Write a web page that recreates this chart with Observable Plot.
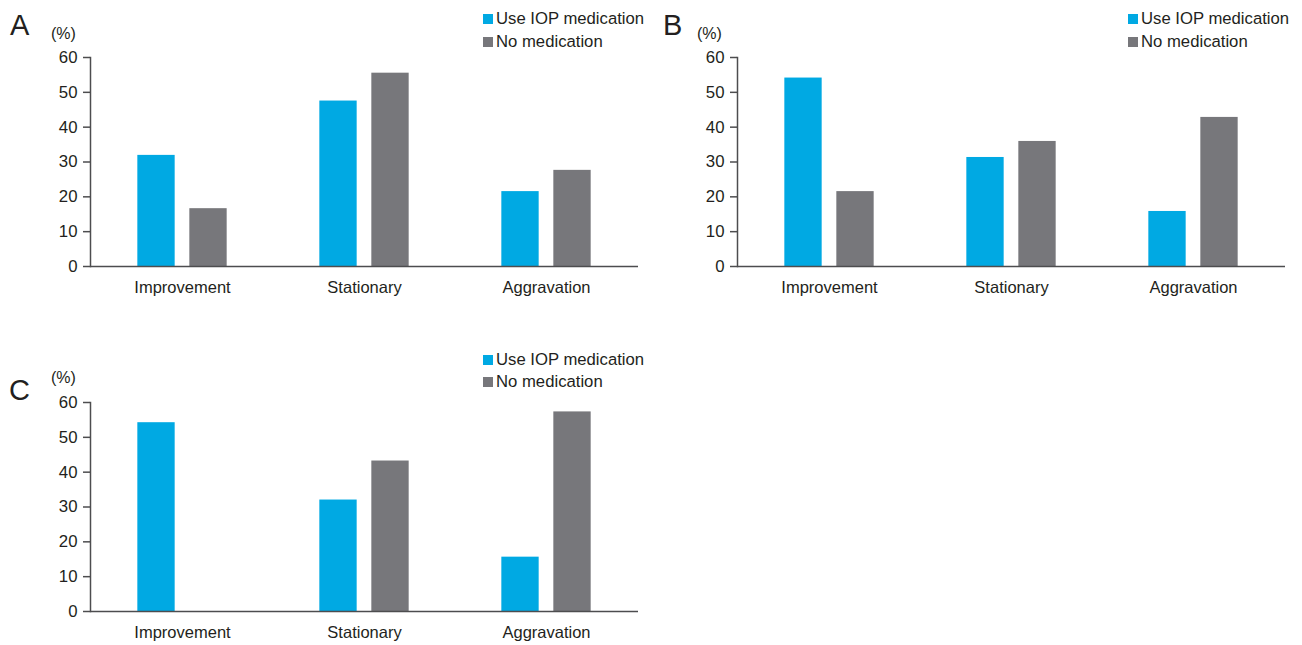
<!DOCTYPE html>
<html>
<head>
<meta charset="utf-8">
<script src="https://cdn.jsdelivr.net/npm/d3@7"></script>
<script src="https://cdn.jsdelivr.net/npm/@observablehq/plot@0.6"></script>
<style>
  html, body { margin: 0; padding: 0; background: #fff; }
  #root { position: relative; width: 1302px; height: 645px; font-family: "Liberation Sans", Arial, sans-serif; color: #231f20; }
  .panel { position: absolute; }
  .abs { position: absolute; line-height: 1; white-space: nowrap; }
  .letter { font-size: 29px; }
  .unit { font-size: 16px; }
  .leg { font-size: 16.7px; display: flex; align-items: center; }
  .sw { width: 10px; height: 10px; margin-right: 3px; }
</style>
</head>
<body>
<div id="root"></div>
<script>
// ---- data ----
const categories = ["Improvement", "Stationary", "Aggravation"];
const seriesNames = ["Use IOP medication", "No medication"];
const seriesColors = ["#00a9e3", "#77777b"];
const yTicks = [0, 10, 20, 30, 40, 50, 60];
const panelLabels = ["A", "B", "C"];

const panelA_med  = [31.9, 47.5, 21.5];
const panelA_none = [16.6, 55.5, 27.6];
const panelB_med  = [54.1, 31.3, 15.8];
const panelB_none = [21.5, 35.9, 42.8];
const panelC_med  = [54.2, 32.0, 15.6];
const panelC_none = [0.0, 43.2, 57.3];

const panels = [
  {label: panelLabels[0], med: panelA_med, none: panelA_none, left: 0,   top: 0,
   letter: [10, 11], unit: [51, 26], legend: [483, 11]},
  {label: panelLabels[1], med: panelB_med, none: panelB_none, left: 647, top: 0,
   letter: [663, 11], unit: [697, 26], legend: [1128, 11]},
  {label: panelLabels[2], med: panelC_med, none: panelC_none, left: 0,   top: 345,
   letter: [9, 376], unit: [51, 370], legend: [483, 351.5]}
];

const axisColor = "#4d4d4f";
const textColor = "#231f20";
const root = document.getElementById("root");

function makeTable(med, none) {
  const rows = [];
  categories.forEach((c, i) => {
    rows.push({category: c, series: seriesNames[0], value: med[i]});
    rows.push({category: c, series: seriesNames[1], value: none[i]});
  });
  return rows;
}

for (const p of panels) {
  const data = makeTable(p.med, p.none);
  const W = 650, H = 310, mL = 90, mR = 12;
  const band = (W - mL - mR) / categories.length;
  const barW = 38, gap = 14;
  const inset = (band - barW) / 2;
  const off = (barW + gap) / 2;

  const chart = Plot.plot({
    width: W, height: H,
    marginLeft: mL, marginRight: mR, marginTop: 57, marginBottom: 44,
    style: {fontFamily: "'Liberation Sans', Arial, sans-serif", fontSize: "16.5px", color: textColor, background: "transparent"},
    x: {domain: categories, padding: 0, label: null},
    y: {domain: [0, 60], label: null},
    color: {domain: seriesNames, range: seriesColors},
    marks: [
      Plot.barY(data.filter(d => d.series === seriesNames[0]), {
        x: "category", y: "value", fill: "series", dx: -off, insetLeft: inset, insetRight: inset
      }),
      Plot.barY(data.filter(d => d.series === seriesNames[1]), {
        x: "category", y: "value", fill: "series", dx: off, insetLeft: inset, insetRight: inset
      }),
      Plot.axisY({ticks: yTicks, tickSize: 7, tickPadding: 6, stroke: axisColor, strokeWidth: 1.5, label: null, fill: textColor, fontSize: 16.8}),
      Plot.axisX({tickSize: 0, tickPadding: 15, label: null, fill: textColor, fontSize: 16.5}),
      Plot.frame({anchor: "left", stroke: axisColor, strokeWidth: 1.5}),
      Plot.ruleY([0], {stroke: axisColor, strokeWidth: 1.5})
    ]
  });
  const wrap = document.createElement("div");
  wrap.className = "panel";
  wrap.style.left = p.left + "px";
  wrap.style.top = p.top + "px";
  wrap.appendChild(chart);
  root.appendChild(wrap);

  const L = document.createElement("div");
  L.className = "abs letter";
  L.textContent = p.label;
  L.style.left = p.letter[0] + "px"; L.style.top = p.letter[1] + "px";
  root.appendChild(L);

  const U = document.createElement("div");
  U.className = "abs unit";
  U.textContent = "(%)";
  U.style.left = p.unit[0] + "px"; U.style.top = p.unit[1] + "px";
  root.appendChild(U);

  seriesNames.forEach((s, i) => {
    const row = document.createElement("div");
    row.className = "abs leg";
    row.style.left = p.legend[0] + "px";
    row.style.top = (p.legend[1] + i * 22.5) + "px";
    const sw = document.createElement("span");
    sw.className = "sw";
    sw.style.background = seriesColors[i];
    const t = document.createElement("span");
    t.textContent = s;
    row.appendChild(sw); row.appendChild(t);
    root.appendChild(row);
  });
}
</script>
</body>
</html>
